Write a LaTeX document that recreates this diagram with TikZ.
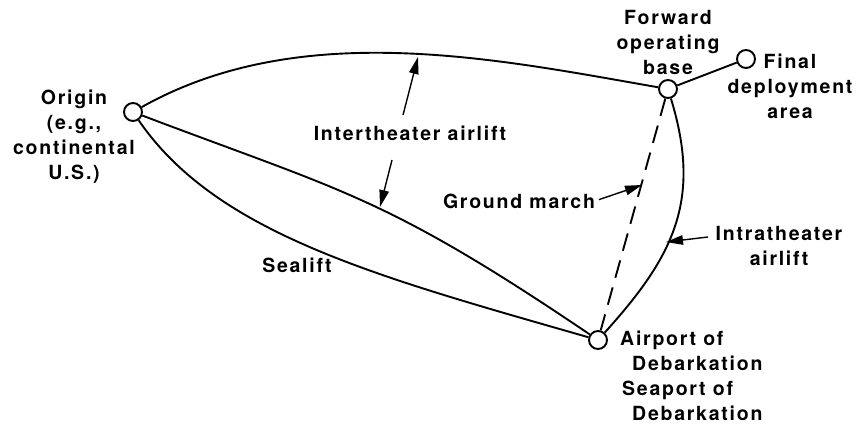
\documentclass[tikz,border=0pt]{standalone}
\usepackage{fontspec}
\setmainfont{TeX Gyre Heros}[LetterSpace=9]
\usetikzlibrary{arrows.meta}
\begin{document}
\begin{tikzpicture}[x=1pt,y=-1pt,
  stn/.style={circle,draw,line width=1.9pt,minimum size=18pt,inner sep=0pt},
  route/.style={line width=1.9pt},
  lbl/.style={font=\fontsize{19.5}{25}\bfseries\selectfont, inner sep=0pt, align=center},
  ptr/.style={line width=1.4pt,-{Triangle[length=17pt,width=9.5pt]}}]
\useasboundingbox (0,0) rectangle (857,425);
% stations
\node[stn] (orig) at (133,112) {};
\node[stn] (fob) at (668,89) {};
\node[stn] (fin) at (746,59) {};
\node[stn] (apod) at (598,340) {};
% routes
\draw[route] (orig) .. controls (301,17.5) and (498,59.4) .. (fob);
\draw[route] (orig) .. controls (344,192) and (385,196) .. (apod);
\draw[route] (orig) .. controls (216.5,234) and (377,276.6) .. (apod);
\draw[route] (fob) .. controls (702,200) and (674,256) .. (apod);
\draw[route,dash pattern=on 18pt off 10pt] (fob) -- (apod);
\draw[route] (fob) -- (fin);
% labels
\node[lbl,anchor=north] (origL) at (74,90) {Origin\\(e.g.,\\continental\\U.S.)};
\node[lbl,anchor=north] (fobL) at (668,10) {Forward\\operating\\base};
\node[lbl,anchor=north] (finL) at (790,54) {Final\\deployment\\area};
\node[lbl,anchor=base] (ita) at (410,141) {Intertheater airlift};
\node[lbl,anchor=base] (gm) at (519,208) {Ground march};
\node[lbl,anchor=north] (itr) at (779,226) {Intratheater\\airlift};
\node[lbl,anchor=base] (sea) at (297,272) {Sealift};
\node[lbl,anchor=north west,align=left] (apodL) at (620,331) {Airport of\\\hspace*{12pt}Debarkation\\\hspace*{2pt}Seaport of\\\hspace*{12pt}Debarkation};
% pointer ends
\coordinate (itaA) at (403,115);
\coordinate (itaTop) at (418,57);
\coordinate (itaB) at (392,160);
\coordinate (itaBot) at (380,207);
\coordinate (gmTip) at (642,185);
\coordinate (itrA) at (708,237);
\coordinate (itrTip) at (666,242);
\draw[ptr] (itaA) -- (itaTop);
\draw[ptr] (itaB) -- (itaBot);
\draw[ptr,shorten <=4pt] (gm.east) -- (gmTip);
\draw[ptr] (itrA) -- (itrTip);
\end{tikzpicture}
\end{document}
